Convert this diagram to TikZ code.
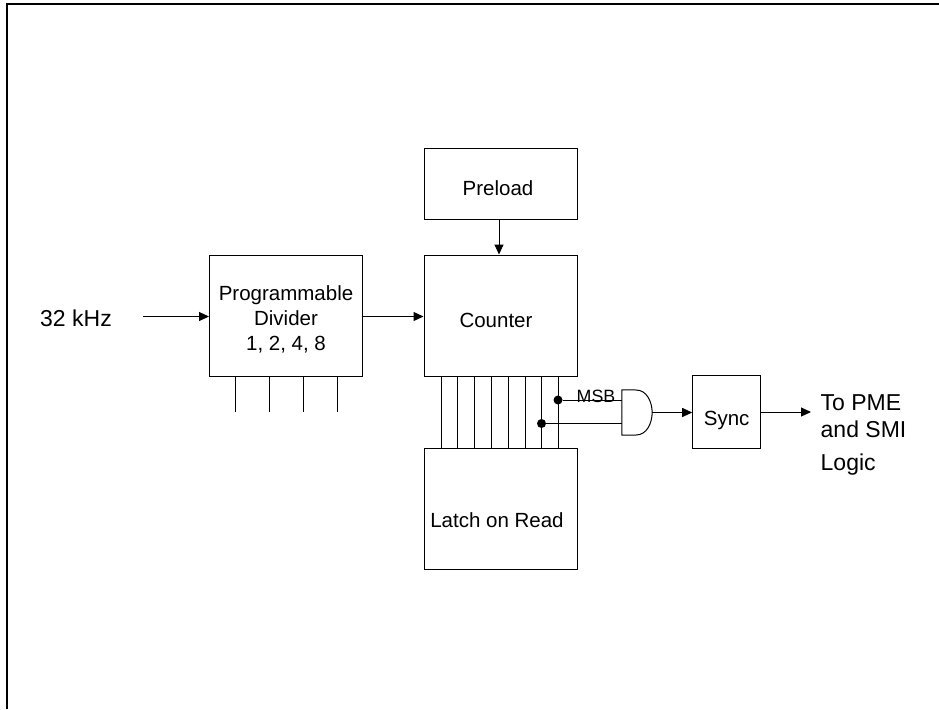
\documentclass[tikz,border=0pt]{standalone}
\usepackage{fontspec}
\setmainfont{Liberation Sans}
\usetikzlibrary{arrows.meta}
\tikzset{
  block/.style = {draw, line width = 1, inner sep = 0, align = center, minimum width = 153, minimum height = 121},
  drop/.style = {text height = #1, text depth = 0},
  label/.style = {inner sep = 0, anchor = base west, font = \fontsize{23}{27}\selectfont},
  wire/.style = {line width = 1},
  sig/.style = {line width = 1, -{Triangle[length = 10, width = 9]}},
  dot/.style = {fill, circle, inner sep = 0, minimum size = 9}
}
\begin{document}
\begin{tikzpicture}[x = 1pt, y = -1pt, font = \fontsize{20.5}{25}\selectfont]
  \useasboundingbox (0, 0) rectangle (939, 709);
  \draw [line width = 2] (6.5, 709) -- (6.5, 4) -- (939, 4);

  \node [block, drop = 23, minimum height = 71] (preload) at (500.5, 183.5) {\hspace*{-5pt}Preload};
  \node [block, drop = 23] (counter) at (500.5, 315.5) {\hspace*{-9pt}Counter};
  \node [block, drop = 37] (latch) at (500.5, 508.5) {\hspace*{-7pt}Latch on Read};
  \node [block] (divider) at (286, 315.5) {\rule{0pt}{23pt}Programmable\\Divider\\1, 2, 4, 8};
  \node [block, drop = 26, minimum width = 68, minimum height = 72.5] (sync) at (726.7, 412) {Sync};
  \node [inner sep = 0, minimum width = 30, minimum height = 45] (gate) at (637, 412.5) {};

  \node [label] (clock) at (40, 326) {32 kHz};
  \node [label] (pme) at (820.5, 410) {To PME};
  \node [label] (smi) at (820.5, 437) {and SMI};
  \node [label] (logic) at (820.5, 470) {Logic};
  \node [inner sep = 0, anchor = base, font = \fontsize{17.8}{20}\selectfont] (msb) at (596, 402) {MSB};

  \node [dot] (msbdot) at (558, 400) {};
  \node [dot] (nextdot) at (541.5, 423.5) {};

  \coordinate (clockin) at (143, 316.5);
  \coordinate (out) at (811, 412);

  \draw [line width = 1] (636, 390) -- (gate.north west) -- (gate.south west) -- (636, 435)
    .. controls (647, 435) and (652, 423) .. (gate.east)
    .. controls (652, 402) and (647, 390) .. cycle;

  \draw [sig] (clockin) -- (divider.west |- clockin);
  \draw [sig] (divider.east |- clockin) -- (counter.west |- clockin);
  \draw [sig] ([xshift = -1.5]preload.south) -- ([xshift = -1.5]counter.north);
  \draw [sig] (gate.east) -- (gate.east -| sync.west);
  \draw [sig] (sync.east) -- (out);
  \draw [wire] (msbdot) -- (msbdot -| gate.west);
  \draw [wire] (nextdot) -- (nextdot -| gate.west);

  \foreach \x in {441, 457.5, 474, 491, 508, 525, 541.5, 558} {
    \draw [wire] (\x, 0 |- counter.south) -- (\x, 0 |- latch.north);
  }
  \foreach \x in {235.5, 269, 303, 337} {
    \draw [wire] (\x, 0 |- divider.south) -- (\x, 412);
  }
\end{tikzpicture}
\end{document}
